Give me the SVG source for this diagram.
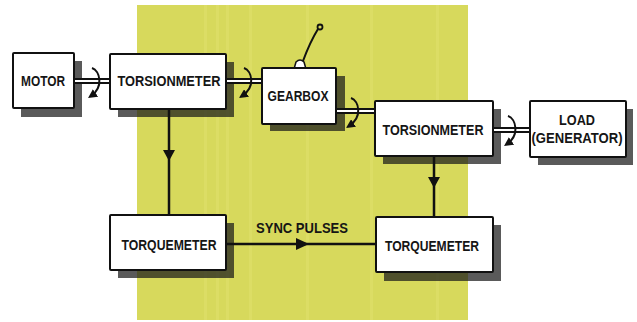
<svg xmlns="http://www.w3.org/2000/svg" width="637" height="322" viewBox="0 0 637 322">
<style>
.box{fill:#fff;stroke:#111;stroke-width:2;}
.shadow{fill:#1a1a1a;opacity:0.72;}
.lbl{font-family:"Liberation Sans",Arial,sans-serif;font-weight:bold;font-size:14px;fill:#151515;text-anchor:middle;}
.line{stroke:#111;stroke-width:2.5;fill:none;}
.shaftO{stroke:#111;stroke-width:6;fill:none;}
.shaftI{stroke:#fff;stroke-width:2;fill:none;}
.rot{stroke:#111;stroke-width:2;fill:none;marker-end:url(#rotHead);}
.head{fill:#111;}
.stripe{fill:#eef08a;opacity:0.2;}
</style>
<defs>
<marker id="rotHead" viewBox="0 0 10 10" refX="6" refY="5" markerWidth="4.5" markerHeight="4.5" orient="auto" markerUnits="strokeWidth">
<path d="M0,0 L10,5 L0,10 Z" fill="#111"/>
</marker>
</defs>
<rect width="637" height="322" fill="#fff"/>
<g id="background">
<rect x="137" y="5" width="331" height="315" fill="#d7d95c"/>
<rect class="stripe" x="204" y="5" width="3" height="315"/>
<rect class="stripe" x="216" y="5" width="3" height="315"/>
<rect class="stripe" x="226" y="5" width="3" height="315"/>
<rect class="stripe" x="249" y="5" width="3" height="315"/>
<rect class="stripe" x="306" y="5" width="3" height="315"/>
<rect class="stripe" x="370" y="5" width="3" height="315"/>
<rect class="stripe" x="436" y="5" width="3" height="315"/>
</g>
<g id="shadows">
<rect class="shadow" x="21" y="61" width="61" height="56"/>
<rect class="shadow" x="118" y="62" width="116" height="55"/>
<rect class="shadow" x="270" y="76" width="75" height="55"/>
<rect class="shadow" x="383" y="109" width="118" height="55"/>
<rect class="shadow" x="538" y="109" width="95" height="56"/>
<rect class="shadow" x="118" y="223" width="116" height="55"/>
<rect class="shadow" x="384" y="225" width="117" height="56"/>
</g>
<g id="connectors">
<line class="shaftO" x1="74" y1="81" x2="110" y2="81"/>
<line class="shaftI" x1="74" y1="81" x2="110" y2="81"/>
<line class="shaftO" x1="226" y1="81" x2="262" y2="81"/>
<line class="shaftI" x1="226" y1="81" x2="262" y2="81"/>
<line class="shaftO" x1="336" y1="111" x2="375" y2="111"/>
<line class="shaftI" x1="336" y1="111" x2="375" y2="111"/>
<line class="shaftO" x1="493" y1="130" x2="530" y2="130"/>
<line class="shaftI" x1="493" y1="130" x2="530" y2="130"/>
<path class="rot" d="M92,68 C100,71 104,87 91,96"/>
<path class="rot" d="M244,68 C252,71 256,87 242,96"/>
<path class="rot" d="M351,98 C359,101 363,117 349,126"/>
<path class="rot" d="M508,116 C516,119 520,135 507,144"/>
<line class="line" x1="169" y1="109" x2="169" y2="215"/>
<path class="head" d="M163,150 L175,150 L169,161 Z"/>
<line class="line" x1="434" y1="157" x2="434" y2="217"/>
<path class="head" d="M428,177 L440,177 L434,188 Z"/>
<line class="line" x1="226" y1="244" x2="376" y2="244"/>
<path class="head" d="M296,238 L296,250 L309,244 Z"/>
<text class="lbl" x="302" y="233" font-size="13" textLength="92" lengthAdjust="spacingAndGlyphs">SYNC PULSES</text>
</g>
<g id="motor">
<rect class="box" x="13" y="53" width="61" height="55" rx="1"/>
<text class="lbl" x="43" y="86" textLength="44" lengthAdjust="spacingAndGlyphs">MOTOR</text>
</g>
<g id="torsionmeter1">
<rect class="box" x="110" y="54" width="116" height="55" rx="1"/>
<text class="lbl" x="169" y="86" textLength="103" lengthAdjust="spacingAndGlyphs">TORSIONMETER</text>
</g>
<g id="gearbox">
<path d="M303,61 Q310,42 318,29" stroke="#111" stroke-width="2" fill="none"/>
<circle cx="320" cy="27" r="2.5" fill="none" stroke="#111" stroke-width="1.8"/>
<path d="M294,69 L296,62 Q300,58 304,62 L306,69 Z" fill="#fff" stroke="#111" stroke-width="1.5"/>
<rect class="box" x="262" y="68" width="74" height="56" rx="1"/>
<text class="lbl" x="298" y="101" textLength="61" lengthAdjust="spacingAndGlyphs">GEARBOX</text>
</g>
<g id="torsionmeter2">
<rect class="box" x="375" y="101" width="118" height="55" rx="1"/>
<text class="lbl" x="433" y="135" textLength="101" lengthAdjust="spacingAndGlyphs">TORSIONMETER</text>
</g>
<g id="load">
<rect class="box" x="530" y="101" width="96" height="56" rx="1"/>
<text class="lbl" x="577" y="125" textLength="36" lengthAdjust="spacingAndGlyphs">LOAD</text>
<text class="lbl" x="577" y="143" textLength="91" lengthAdjust="spacingAndGlyphs">(GENERATOR)</text>
</g>
<g id="torquemeter1">
<rect class="box" x="110" y="215" width="116" height="55" rx="1"/>
<text class="lbl" x="169" y="250" textLength="95" lengthAdjust="spacingAndGlyphs">TORQUEMETER</text>
</g>
<g id="torquemeter2">
<rect class="box" x="376" y="217" width="117" height="55" rx="1"/>
<text class="lbl" x="432" y="251" textLength="94" lengthAdjust="spacingAndGlyphs">TORQUEMETER</text>
</g>
</svg>
